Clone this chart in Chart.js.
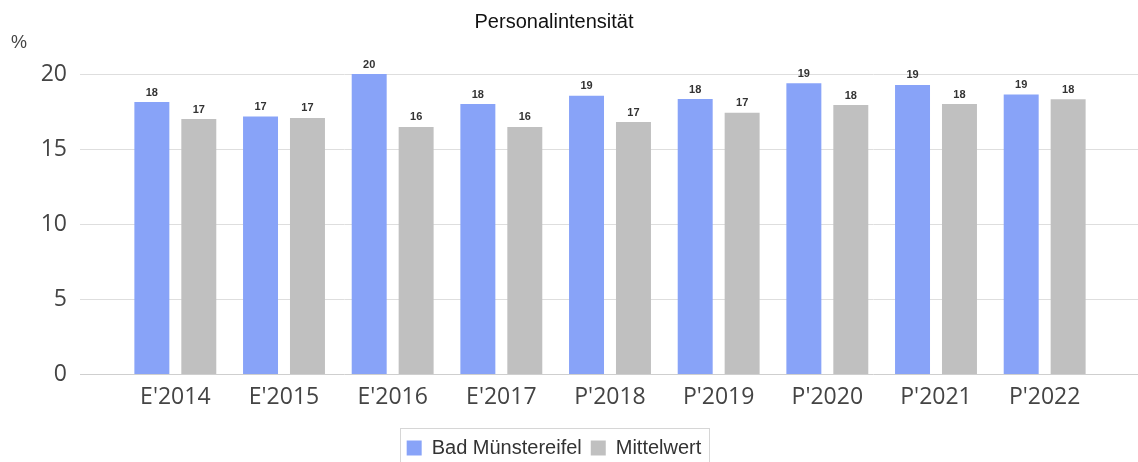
<!DOCTYPE html>
<html>
<head>
<meta charset="utf-8">
<script src="https://cdn.jsdelivr.net/npm/chart.js@4"></script>
<style>
  html, body { margin: 0; padding: 0; background: #fff; }
  #wrap { width: 1138px; height: 462px; }
</style>
</head>
<body>
<div id="wrap"><canvas id="personal"></canvas></div>
<script>
'use strict';

// DATA
const years = ["E'2014", "E'2015", "E'2016", "E'2017", "P'2018", "P'2019", "P'2020", "P'2021", "P'2022"];
const badMuenstereifel = [18.13, 17.17, 20.0, 18.0, 18.55, 18.33, 19.38, 19.27, 18.64];
const mittelwert = [17.0, 17.07, 16.47, 16.47, 16.8, 17.42, 17.93, 18.0, 18.31];
const yTicks = [0, 5, 10, 15, 20];

// grid lines run wider than the bar area, so draw them ourselves
const gridLines = {
    id: 'gridLines',
    beforeDatasetsDraw(chart) {
        let ctx = chart.ctx;
        let y = chart.scales.y;
        ctx.save();
        y.ticks.forEach(function (t) {
            let py = Math.round(y.getPixelForValue(t.value)) + 0.5;
            ctx.strokeStyle = t.value === 0 ? '#cfcfcf' : '#dedede';
            ctx.lineWidth = 1;
            ctx.beginPath();
            ctx.moveTo(80, py);
            ctx.lineTo(chart.width, py);
            ctx.stroke();
        });
        ctx.restore();
    }
};

// value labels above bars + the % unit + frame round legend
const extras = {
    id: 'extras',
    afterDatasetsDraw(chart) {
        let ctx = chart.ctx;
        ctx.save();
        ctx.font = 'bold 11px "Liberation Sans", Arial, sans-serif';
        ctx.fillStyle = '#333';
        ctx.textAlign = 'center';
        ctx.textBaseline = 'bottom';
        chart.data.datasets.forEach(function (ds, i) {
            chart.getDatasetMeta(i).data.forEach(function (bar, j) {
                ctx.fillText(Math.round(ds.data[j]), bar.x, bar.y - 4);
            });
        });

        ctx.font = '18px "Liberation Sans", Arial, sans-serif';
        ctx.fillStyle = '#444';
        ctx.textAlign = 'left';
        ctx.textBaseline = 'middle';
        ctx.fillText('%', 11, 43);
        ctx.restore();
    },
    afterDraw(chart) {
        let boxes = chart.legend.legendHitBoxes;
        if (!boxes || !boxes.length) return;
        let left = Math.min.apply(null, boxes.map(b => b.left)) - 7;
        let right = Math.max.apply(null, boxes.map(b => b.left + b.width)) + 7;
        let top = boxes[0].top - 10;
        let ctx = chart.ctx;
        ctx.save();
        ctx.strokeStyle = '#d6d6d6';
        ctx.lineWidth = 1;
        ctx.strokeRect(Math.round(left) + 0.5, Math.round(top) + 0.5, Math.round(right - left), chart.height);
        ctx.restore();
    }
};

new Chart(document.getElementById('personal'), {
    type: 'bar',
    data: {
        labels: years,
        datasets: [
            {
                label: 'Bad Münstereifel',
                data: badMuenstereifel,
                backgroundColor: '#88a3f8',
                borderWidth: 0,
                categoryPercentage: 0.864,
                barPercentage: 0.745
            },
            {
                label: 'Mittelwert',
                data: mittelwert,
                backgroundColor: '#c0c0c0',
                borderWidth: 0,
                categoryPercentage: 0.864,
                barPercentage: 0.745
            }
        ]
    },
    options: {
        responsive: true,
        maintainAspectRatio: false,
        animation: false,
        layout: { padding: { left: 9, right: 39, top: 0, bottom: -6 } },
        plugins: {
            title: {
                display: true,
                text: 'Personalintensität',
                color: '#111',
                font: { size: 20, family: '"Liberation Sans", Arial, sans-serif', weight: 'normal' },
                padding: { top: 10, bottom: 40 }
            },
            legend: {
                position: 'bottom',
                labels: {
                    boxWidth: 15,
                    boxHeight: 15,
                    padding: 9,
                    color: '#333',
                    font: { size: 20, family: '"Liberation Sans", Arial, sans-serif' }
                }
            },
            tooltip: { enabled: false }
        },
        scales: {
            x: {
                grid: { display: false, drawTicks: false },
                border: { display: false },
                ticks: {
                    color: '#444',
                    padding: 10,
                    font: { size: 23, family: '"Open Sans", sans-serif' }
                },
                afterFit(scale) { scale.height = 55; }
            },
            y: {
                min: 0,
                max: 20,
                afterBuildTicks(scale) { scale.ticks = yTicks.map(v => ({ value: v })); },
                grid: { display: false, drawTicks: false },
                border: { display: false },
                ticks: {
                    color: '#444',
                    padding: 54,
                    font: { size: 23, family: '"Open Sans", sans-serif' }
                },
                afterFit(scale) { scale.width = 112; }
            }
        }
    },
    plugins: [gridLines, extras]
});
</script>
</body>
</html>
